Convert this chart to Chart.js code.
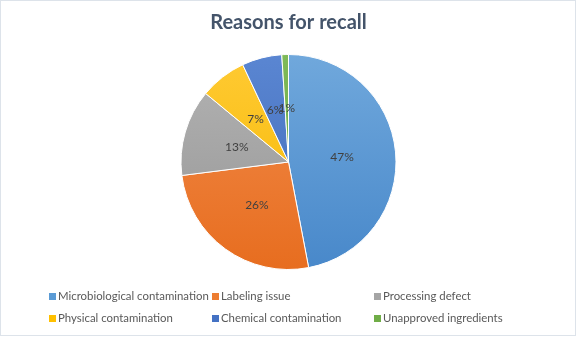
<!DOCTYPE html>
<html>
<head>
<meta charset="utf-8">
<script src="https://cdn.jsdelivr.net/npm/chart.js@4/dist/chart.umd.min.js"></script>
<style>
  html, body { margin: 0; padding: 0; background: #ffffff; }
  #wrap { width: 577px; height: 337px; position: relative; }
</style>
</head>
<body>
<div id="wrap"><canvas id="chart" width="577" height="337"></canvas></div>
<script>
// Recall reasons, share of all recalls (%)
const categories = [
  'Microbiological contamination',
  'Labeling issue',
  'Processing defect',
  'Physical contamination',
  'Chemical contamination',
  'Unapproved ingredients'
];
const shares = [47, 26, 13, 7, 6, 1];

// Light (top) and dark (bottom) tones of each slice's gradient
const topTones = ['#70a8dc', '#f28c4c', '#b3b3b3', '#ffca33', '#5a86d2', '#7fba58'];
const bottomTones = ['#4888ca', '#e76d1f', '#959595', '#f5b700', '#3f69b6', '#64a13e'];
const swatches = ['#5b9bd5', '#ed7d31', '#a5a5a5', '#ffc000', '#4472c4', '#70ad47'];

function sliceFill(ctx) {
  const chart = ctx.chart;
  const area = chart.chartArea;
  if (!area) return swatches[ctx.dataIndex];
  const g = chart.ctx.createLinearGradient(0, area.top, 0, area.bottom);
  g.addColorStop(0, topTones[ctx.dataIndex]);
  g.addColorStop(1, bottomTones[ctx.dataIndex]);
  return g;
}

// White background and thin frame
const framePlugin = {
  id: 'frame',
  beforeDraw(chart) {
    const c = chart.ctx;
    c.save();
    c.fillStyle = '#ffffff';
    c.fillRect(0, 0, chart.width, chart.height);
    c.strokeStyle = '#dde3ea';
    c.lineWidth = 1;
    c.strokeRect(0.5, 0.5, chart.width - 2, chart.height - 2);
    c.restore();
  }
};

// Percentage labels at the middle of each slice
const sliceLabels = {
  id: 'sliceLabels',
  afterDatasetsDraw(chart) {
    const c = chart.ctx;
    const meta = chart.getDatasetMeta(0);
    const total = shares.reduce((a, b) => a + b, 0);
    c.save();
    c.font = '12px Lato, sans-serif';
    c.fillStyle = '#404040';
    c.textAlign = 'center';
    c.textBaseline = 'middle';
    meta.data.forEach((arc, i) => {
      const p = arc.tooltipPosition();
      c.fillText(Math.round(shares[i] / total * 100) + '%', p.x, p.y);
    });
    c.restore();
  }
};

// Three-column legend below the pie
const gridLegend = {
  id: 'gridLegend',
  afterDraw(chart) {
    const c = chart.ctx;
    const colX = [49, 212, 374];
    const rowY = [296, 318];
    c.save();
    c.font = '11.4px Lato, sans-serif';
    c.textBaseline = 'middle';
    categories.forEach((name, i) => {
      const x = colX[i % 3];
      const y = rowY[Math.floor(i / 3)];
      c.fillStyle = swatches[i];
      c.fillRect(x, y - 3, 7, 7);
      c.fillStyle = '#595959';
      c.fillText(name, x + 9, y + 0.5);
    });
    c.restore();
  }
};

new Chart(document.getElementById('chart'), {
  type: 'pie',
  data: {
    labels: categories,
    datasets: [{
      data: shares,
      backgroundColor: sliceFill,
      borderColor: '#ffffff',
      borderWidth: 1
    }]
  },
  options: {
    responsive: false,
    animation: false,
    layout: { padding: { top: 0, bottom: 67, left: 0, right: 0 } },
    plugins: {
      legend: { display: false },
      tooltip: { enabled: false },
      title: {
        display: true,
        text: 'Reasons for recall',
        color: '#44546a',
        font: { family: 'Lato, "Open Sans", sans-serif', size: 20, weight: 'bold' },
        padding: { top: 11, bottom: 19 }
      }
    }
  },
  plugins: [framePlugin, sliceLabels, gridLegend]
});
</script>
</body>
</html>
